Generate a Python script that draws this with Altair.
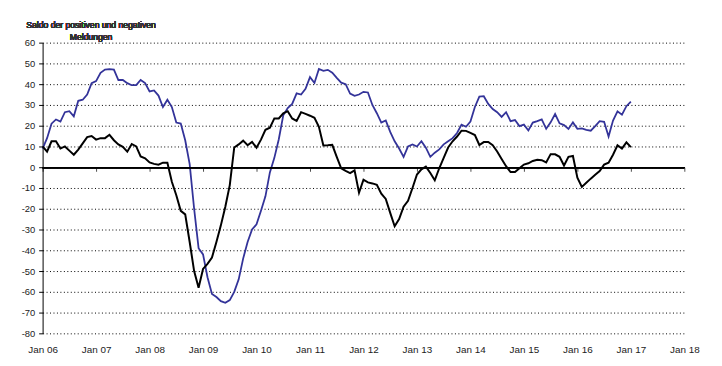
import json
import altair as alt
import pandas as pd

# ---- data (monthly, Jan 06 .. Jan 17) ----
blue_values = [
    9, 14, 21, 23, 22, 26.5, 27, 24.5, 32, 32.5, 35, 40.5,            # 2006
    41.5, 45.5, 47, 47.2, 47, 42, 42, 40.5, 39.5, 39.5, 42, 40.5,     # 2007
    36.5, 37, 34.5, 29, 32.5, 29, 21.5, 21, 13, 1.5, -20, -39,        # 2008
    -42, -53, -61, -62.5, -64.5, -65.3, -64, -60, -54, -44, -36, -30,  # 2009
    -27.5, -21, -14, -2.5, 4.5, 13.5, 25, 28.5, 30.5, 35.6, 35, 37.8,  # 2010
    43.4, 40.6, 47.3, 46.4, 46.9, 45.5, 43, 40.7, 40, 35.5, 34.4, 35,  # 2011
    36.3, 36, 30, 26, 21.5, 22.5, 17, 12.5, 9, 5, 10, 11,              # 2012
    10, 12.5, 9.4, 5, 7, 8.6, 11, 12.5, 14, 16.5, 20.5, 19.5,          # 2013
    22, 29, 34, 34.2, 30.5, 28, 26.5, 24.2, 26.5, 22.2, 22.7, 19.8,    # 2014
    20.5, 17.7, 21.5, 22.2, 23, 18.5, 21.6, 25.6, 21.1, 20.3, 18.4, 21.6,  # 2015
    18.5, 18.7, 18, 17.6, 19.8, 22.2, 21.9, 14.8, 22.5, 26.9, 25.3, 29.4,  # 2016
    31.6,                                                               # Jan 17
]
black_values = [
    10, 7.5, 12.5, 12.5, 9, 10, 8, 6, 8.5, 11.5, 14.5, 15,             # 2006
    13.3, 14, 14, 15.6, 13, 11, 9.8, 7.5, 11.2, 10, 5.2, 4.3,          # 2007
    2.3, 1.6, 1.2, 2.2, 2.2, -7, -13.5, -21, -22.7, -36, -50, -58,     # 2008
    -49, -46.5, -43.5, -36, -28, -19, -8.6, 9.5, 11, 12.8, 10.6, 12.2,  # 2009
    9.4, 13.3, 18, 19, 23.5, 23.5, 26, 27, 23.5, 22.3, 26.5, 25.7,     # 2010
    24.8, 23.8, 19.5, 10.5, 10.6, 10.8, 5, -0.5, -1.8, -2.8, -1.5, -12.3,  # 2011
    -6, -7.3, -7.8, -8.5, -12.7, -15.3, -22, -28.4, -25, -19, -16.2, -10,  # 2012
    -3.5, -1, 0.3, -2.8, -6.3, -0.5, 4.5, 9.5, 12.5, 14.8, 17.6, 17.5,  # 2013
    16.5, 15.5, 10.7, 12.1, 12.2, 10.6, 7.6, 4, 0.5, -2.3, -2.3, -0.5,  # 2014
    1.3, 1.9, 3, 3.6, 3.4, 2.3, 6.3, 6.2, 5, 0.8, 5, 5.4,              # 2015
    -5, -9.5, -7.5, -5.5, -3.6, -1.8, 1.25, 2.2, 6, 10.6, 9, 12,       # 2016
    9.7,                                                                # Jan 17
]
x_tick_labels = ["Jan 06", "Jan 07", "Jan 08", "Jan 09", "Jan 10", "Jan 11", "Jan 12",
                 "Jan 13", "Jan 14", "Jan 15", "Jan 16", "Jan 17", "Jan 18"]
y_ticks = [-80, -70, -60, -50, -40, -30, -20, -10, 0, 10, 20, 30, 40, 50, 60]
title_text = "Saldo der positiven und negativen\nMeldungen"

x_tick_pos = [12 * i for i in range(len(x_tick_labels))]

blue_df = pd.DataFrame({"m": range(len(blue_values)), "v": blue_values})
black_df = pd.DataFrame({"m": range(len(black_values)), "v": black_values})
ticks_df = pd.DataFrame({"m": x_tick_pos, "v": [0] * len(x_tick_pos)})

FONT = "Liberation Sans"

x_enc = alt.X(
    "m:Q",
    scale=alt.Scale(domain=[0, 144], nice=False, zero=False),
    axis=alt.Axis(
        values=x_tick_pos,
        labelExpr=f"{json.dumps(x_tick_labels)}[round(datum.value / 12)]",
        domain=False, ticks=False, grid=False, title=None,
        labelFont=FONT, labelFontSize=10, labelColor="#222222",
        labelPadding=11, labelOverlap=False, labelFlush=False,
    ),
)
y_enc = alt.Y(
    "v:Q",
    scale=alt.Scale(domain=[-80, 60], nice=False, zero=False),
    axis=alt.Axis(
        values=y_ticks, labelExpr="'' + datum.value", title=None,
        labelOverlap=False,
        domain=True, domainColor="black", domainWidth=1,
        ticks=True, tickSize=4, tickColor="black", tickWidth=1,
        grid=True, gridColor="black", gridDash=[1, 2.5], gridWidth=1, gridOpacity=1,
        labelFont=FONT, labelFontSize=9.5, labelColor="#222222", labelPadding=4,
    ),
)

blue_line = alt.Chart(blue_df).mark_line(color="#333399", strokeWidth=1.8).encode(x=x_enc, y=y_enc)
black_line = alt.Chart(black_df).mark_line(color="black", strokeWidth=2).encode(x=x_enc, y=y_enc)

zero_rule = alt.Chart(ticks_df).mark_rule(color="black", strokeWidth=1, yOffset=0.5).encode(
    y=y_enc)
zero_ticks = alt.Chart(ticks_df).mark_tick(
    orient="vertical", size=4, thickness=1, color="black", yOffset=2.5, xOffset=0.5
).encode(x=x_enc, y=y_enc)

title = alt.Chart(ticks_df).mark_text(
    lineBreak="\n", align="center", baseline="top", font=FONT, fontSize=8.7,
    color="#333333", lineHeight=12,
).encode(x=alt.value(49), y=alt.value(-22), text=alt.value(title_text))

chart = alt.layer(blue_line, zero_rule, zero_ticks, black_line, title).properties(
    width=649, height=294,
    autosize=alt.AutoSizeParams(type="none"),
    padding={"left": 35, "top": 33, "right": 30, "bottom": 31},
    background="white",
).configure_view(stroke=None)

chart.save("out.html", embed_options={"renderer": "svg", "actions": False})
